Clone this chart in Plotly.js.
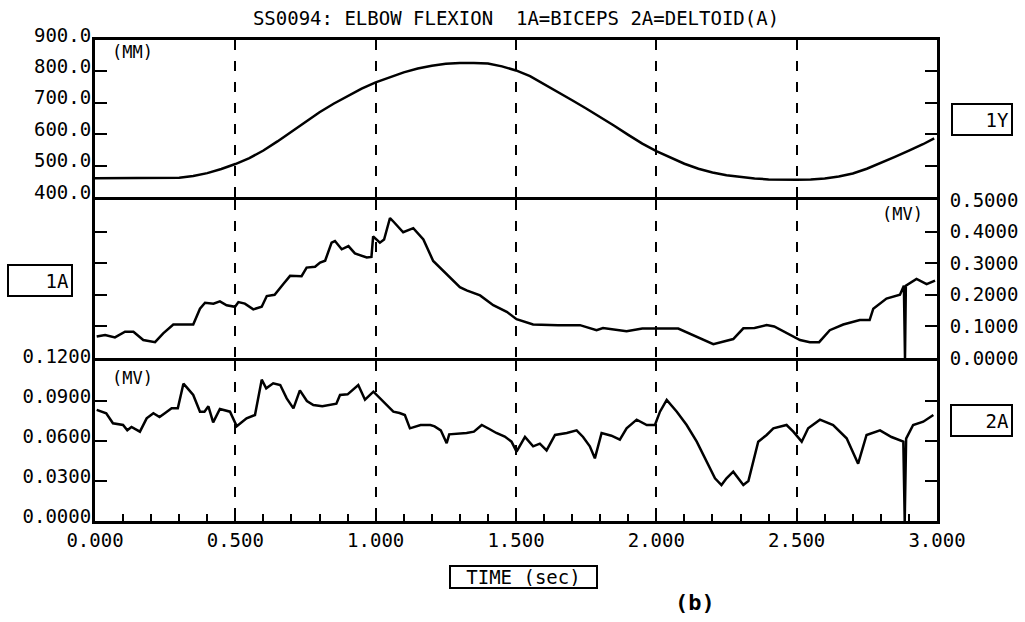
<!DOCTYPE html>
<html>
<head>
<meta charset="utf-8">
<script src="https://cdn.plot.ly/plotly-3.0.1.min.js"></script>
<style>html,body{margin:0;padding:0;background:#fff;}#chart{width:1025px;height:622px;}</style>
</head>
<body>
<div id="chart"></div>
<script>
// ---- data: 1Y displacement (MM) ----
const t1Y = [0.00,0.05,0.10,0.15,0.20,0.25,0.30,0.35,0.40,0.45,0.50,0.55,0.60,0.65,0.70,0.75,0.80,0.85,0.90,0.95,
  1.00,1.05,1.10,1.15,1.20,1.25,1.30,1.35,1.40,1.45,1.50,1.55,1.60,1.65,1.70,1.75,1.80,1.85,1.90,1.95,
  2.00,2.05,2.10,2.15,2.20,2.25,2.30,2.35,2.40,2.45,2.50,2.55,2.60,2.65,2.70,2.75,2.80,2.85,2.90,2.95,2.99];
const v1Y = [460,460,460,460,460,460,461,467,476,489,505,524,548,577,608,640,670,697,722,745,
  765,782,797,809,818,824,827,827,825,816,803,785,760,735,708,682,655,627,598,570,
  546,525,506,490,478,469,463,459,456,455,455,456,459,465,475,490,508,528,548,568,587];

// ---- data: 1A biceps EMG (MV) ----
const t1A = [0.006,0.036,0.071,0.107,0.137,0.172,0.214,0.243,0.279,0.350,0.374,0.392,0.422,0.445,0.469,0.499,0.511,0.534,0.564,0.594,
  0.612,0.640,0.671,0.695,0.736,0.754,0.784,0.802,0.820,0.843,0.855,0.879,0.903,0.926,0.968,0.985,0.991,1.015,1.030,1.051,
  1.063,1.098,1.134,1.170,1.205,1.253,1.300,1.324,1.372,1.419,1.467,1.502,1.561,1.650,1.728,1.787,1.810,1.894,1.950,2.078,
  2.155,2.203,2.274,2.310,2.350,2.393,2.420,2.476,2.512,2.547,2.580,2.618,2.666,2.725,2.760,2.773,2.820,2.868,2.882,2.886,
  2.889,2.927,2.963,2.993];
const v1A = [0.068,0.073,0.065,0.083,0.083,0.057,0.050,0.078,0.106,0.106,0.156,0.175,0.172,0.179,0.167,0.162,0.177,0.172,0.154,0.162,
  0.196,0.200,0.234,0.260,0.259,0.286,0.289,0.302,0.308,0.365,0.370,0.344,0.354,0.331,0.318,0.320,0.385,0.365,0.375,0.443,
  0.432,0.398,0.411,0.375,0.307,0.266,0.224,0.214,0.198,0.167,0.146,0.123,0.106,0.104,0.104,0.088,0.095,0.085,0.093,0.093,
  0.062,0.044,0.060,0.094,0.095,0.104,0.100,0.073,0.057,0.050,0.050,0.088,0.106,0.120,0.120,0.156,0.188,0.200,0.229,0.000,
  0.229,0.250,0.234,0.245];

// ---- data: 2A deltoid EMG (MV) ----
const t2A = [0.006,0.040,0.064,0.100,0.115,0.130,0.160,0.184,0.208,0.230,0.250,0.273,0.295,0.315,0.330,0.350,0.374,0.390,0.404,0.421,
  0.445,0.481,0.505,0.540,0.570,0.594,0.610,0.635,0.660,0.683,0.707,0.730,0.755,0.778,0.810,0.840,0.860,0.873,0.900,0.938,
  0.962,0.992,1.021,1.045,1.063,1.085,1.104,1.122,1.160,1.195,1.210,1.232,1.253,1.262,1.324,1.350,1.378,1.405,1.430,1.460,
  1.484,1.502,1.532,1.561,1.585,1.609,1.639,1.681,1.716,1.739,1.763,1.781,1.805,1.840,1.870,1.894,1.930,1.966,1.995,2.013,
  2.037,2.073,2.108,2.144,2.179,2.209,2.232,2.250,2.274,2.292,2.310,2.328,2.345,2.363,2.393,2.417,2.464,2.488,2.518,2.541,
  2.583,2.630,2.678,2.719,2.749,2.797,2.838,2.880,2.885,2.890,2.915,2.951,2.987];
const v2A = [0.0833,0.0808,0.0733,0.0720,0.0680,0.0705,0.0670,0.0770,0.0808,0.0780,0.0810,0.0845,0.0845,0.1030,0.0995,0.0945,0.0820,0.0820,0.0860,0.0740,
  0.0840,0.0820,0.0710,0.0770,0.0795,0.1060,0.0995,0.1033,0.1020,0.0920,0.0845,0.0980,0.0900,0.0870,0.0860,0.0870,0.0880,0.0945,0.0950,0.1020,
  0.0910,0.0970,0.0910,0.0860,0.0820,0.0810,0.0795,0.0695,0.0720,0.0720,0.0710,0.0680,0.0583,0.0650,0.0660,0.0670,0.0720,0.0690,0.0660,0.0633,
  0.0595,0.0520,0.0630,0.0560,0.0580,0.0530,0.0645,0.0660,0.0680,0.0630,0.0560,0.0470,0.0660,0.0640,0.0610,0.0695,0.0760,0.0720,0.0720,0.0820,
  0.0908,0.0820,0.0720,0.0595,0.0445,0.0320,0.0270,0.0320,0.0370,0.0320,0.0270,0.0300,0.0445,0.0595,0.0645,0.0695,0.0720,0.0670,0.0595,0.0695,
  0.0760,0.0720,0.0620,0.0430,0.0645,0.0680,0.0630,0.0595,0.0000,0.0618,0.0720,0.0745,0.0795];

// ---- tick labels ----
const xTickVals = [0,0.5,1.0,1.5,2.0,2.5,3.0];
const xTickText = ['0.000','0.500','1.000','1.500','2.000','2.500','3.000'];
const yYVals = [400,500,600,700,800,900];
const yYText = ['400.0','500.0','600.0','700.0','800.0','900.0'];
const y1AVals = [0,0.1,0.2,0.3,0.4,0.5];
const y1AText = ['0.0000','0.1000','0.2000','0.3000','0.4000','0.5000'];
const y2AVals = [0,0.03,0.06,0.09,0.12];
const y2AText = ['0.0000','0.0300','0.0600','0.0900','0.1200'];

const titleText = 'SS0094: ELBOW FLEXION  1A=BICEPS 2A=DELTOID(A)';

const FONT = 'DejaVu Sans Mono, monospace';
const line = {color:'#000', width:2.5, shape:'linear'};

const traces = [
  {x:t1Y, y:v1Y, xaxis:'x3', yaxis:'y3', mode:'lines', line:line, hoverinfo:'skip'},
  {x:t1A, y:v1A, xaxis:'x2', yaxis:'y2', mode:'lines', line:line, hoverinfo:'skip'},
  {x:t2A, y:v2A, xaxis:'x',  yaxis:'y',  mode:'lines', line:line, hoverinfo:'skip'}
];

const H = 481;
const dBot = [0, 160/H], dMid = [163/H, 321/H], dTop = [324/H, 1];

function xax(anchor, labels){
  const a = {
    anchor:anchor, range:[0,3], showline:true, mirror:true, linecolor:'#000', linewidth:3,
    showgrid:true, gridcolor:'#000', gridwidth:2, griddash:'10px,11px',
    tickvals:xTickVals, ticktext:xTickText, zeroline:false,
    showticklabels:labels, ticks: labels ? 'inside' : '', ticklen:7, tickwidth:2, tickcolor:'#000',
    tickfont:{family:FONT, size:19, color:'#000'}
  };
  if (labels) a.minor = {dtick:0.1, ticks:'inside', ticklen:7, tickwidth:2, tickcolor:'#000', showgrid:false};
  if (anchor !== 'y') a.matches = 'x';
  return a;
}
function yax(domain, range, vals, text, side, anchor, shift, standoff){
  return {
    domain:domain, range:range, anchor:anchor, side:side,
    showline:true, mirror:'ticks', linecolor:'#000', linewidth:3,
    ticks:'inside', ticklen:12, tickwidth:2, tickcolor:'#000',
    tickvals:vals, ticktext:text, showgrid:false, zeroline:false,
    ticklabelshift:shift, ticklabelstandoff:standoff,
    tickfont:{family:FONT, size:19, color:'#000'}
  };
}

const boxStyle = {bordercolor:'#000', borderwidth:2, borderpad:2, bgcolor:'#fff', showarrow:false, xref:'paper', yref:'paper',
  font:{family:FONT, size:19, color:'#000'}, align:'right'};

const layout = {
  width:1025, height:622,
  margin:{l:95, r:88, t:40, b:101, pad:0},
  paper_bgcolor:'#fff', plot_bgcolor:'#fff',
  showlegend:false,
  title:{text:titleText, x:0.5, xref:'paper', y:1-18/622, yref:'container', yanchor:'middle',
    font:{family:FONT, size:19, color:'#000'}},
  xaxis: xax('y', true),
  xaxis2: xax('y2', false),
  xaxis3: xax('y3', false),
  yaxis: yax(dBot, [0,0.12], y2AVals, y2AText, 'left', 'x', -5, -3),
  yaxis2: yax(dMid, [0,0.5], y1AVals, y1AText, 'right', 'x2', 0, 6),
  yaxis3: yax(dTop, [400,900], yYVals, yYText, 'left', 'x3', -5, -3),
  annotations:[
    Object.assign({}, boxStyle, {text:'1Y', x:(981.5-95)/842, y:(521-119.5)/H, xanchor:'center', yanchor:'middle', width:54, height:25}),
    Object.assign({}, boxStyle, {text:'1A', x:(39.5-95)/842, y:(521-280)/H, xanchor:'center', yanchor:'middle', width:58, height:25}),
    Object.assign({}, boxStyle, {text:'2A', x:(981-95)/842, y:(521-420)/H, xanchor:'center', yanchor:'middle', width:55, height:25}),
    Object.assign({}, boxStyle, {text:'TIME (sec)', x:(523-95)/842, y:(521-576.5)/H, xanchor:'center', yanchor:'middle', width:143, height:18, borderpad:1, align:'center'}),
    {text:'(b)', x:(695-95)/842, y:(521-602)/H, xref:'paper', yref:'paper', xanchor:'center', yanchor:'middle', showarrow:false,
      font:{family:FONT, size:22, color:'#000', weight:'bold'}},
    {text:'(MM)', x:15/842, y:(521-52)/H, xref:'paper', yref:'paper', xanchor:'left', yanchor:'middle', showarrow:false,
      font:{family:FONT, size:17, color:'#000'}},
    {text:'(MV)', x:(925-95)/842, y:(521-214)/H, xref:'paper', yref:'paper', xanchor:'right', yanchor:'middle', showarrow:false,
      font:{family:FONT, size:17, color:'#000'}},
    {text:'(MV)', x:15/842, y:(521-378)/H, xref:'paper', yref:'paper', xanchor:'left', yanchor:'middle', showarrow:false,
      font:{family:FONT, size:17, color:'#000'}}
  ]
};

Plotly.newPlot('chart', traces, layout, {staticPlot:true, displayModeBar:false});
</script>
</body>
</html>
